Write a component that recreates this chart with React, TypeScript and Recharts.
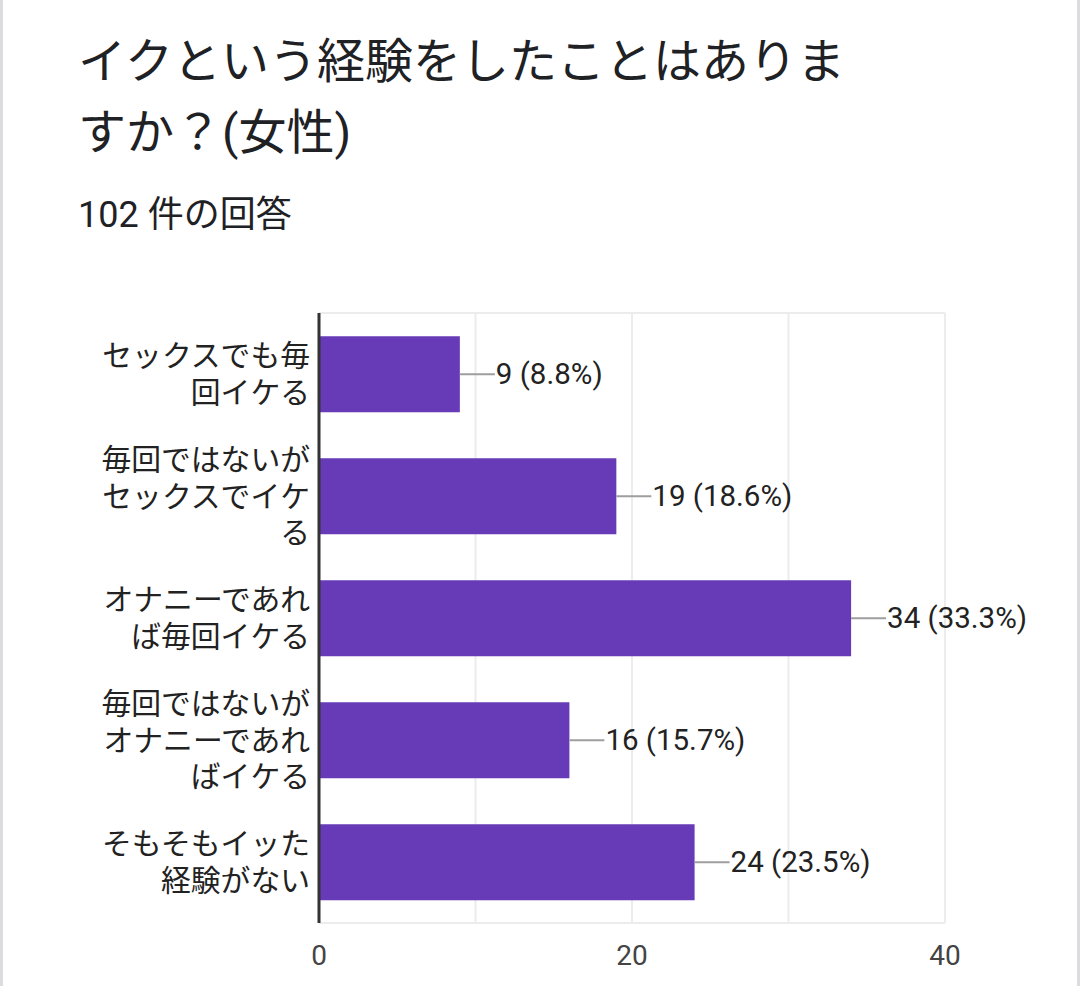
import React from 'react';
import { BarChart, Bar, XAxis, YAxis, CartesianGrid, LabelList } from 'recharts';

const categories = [
  'セックスでも毎回イケる',
  '毎回ではないがセックスでイケる',
  'オナニーであれば毎回イケる',
  '毎回ではないがオナニーであればイケる',
  'そもそもイッた経験がない',
];
const counts = [9, 19, 34, 16, 24];
const percents = ['8.8', '18.6', '33.3', '15.7', '23.5'];
const xTicks = [0, 10, 20, 30, 40];
const shownTicks = [0, 20, 40];
const titleLines = ['イクという経験をしたことはありま', 'すか？(女性)'];
const subtitle = '102 件の回答';

const data = categories.map((c, i) => ({ name: c, value: counts[i], pct: percents[i] }));

const FONT = "Roboto, 'Noto Sans CJK JP', sans-serif";
const CHARS_PER_LINE = 7;

function splitLines(s: string): string[] {
  const out: string[] = [];
  const chars = Array.from(s);
  for (let i = 0; i < chars.length; i += CHARS_PER_LINE) {
    out.push(chars.slice(i, i + CHARS_PER_LINE).join(''));
  }
  return out;
}

const YTick = (props: any) => {
  const { x, y, payload } = props;
  const lines = splitLines(String(payload.value));
  const lh = 36.5;
  const start = y - ((lines.length - 1) * lh) / 2;
  return (
    <g>
      {lines.map((l, i) => (
        <text
          key={i}
          x={x + 7}
          y={start + i * lh}
          textAnchor="end"
          dominantBaseline="central"
          fontSize={29.8}
          fontFamily={FONT}
          fill="#222"
        >
          {l}
        </text>
      ))}
    </g>
  );
};

const BarLabel = (props: any) => {
  const { x, y, width, height, index } = props;
  const ex = x + width;
  const cy = y + height / 2;
  return (
    <g>
      <line x1={ex} y1={cy} x2={ex + 35} y2={cy} stroke="#9e9e9e" strokeWidth={2} />
      <text
        x={ex + 36}
        y={cy}
        dominantBaseline="central"
        fontSize={29.5}
        fontFamily={FONT}
        fill="#222"
      >
        {`${counts[index]} (${percents[index]}%)`}
      </text>
    </g>
  );
};

export default function App() {
  return (
    <div
      style={{
        position: 'absolute',
        left: 0,
        top: 0,
        width: 1080,
        height: 986,
        background: '#fff',
        fontFamily: FONT,
        overflow: 'hidden',
      }}
    >
      <div style={{ position: 'absolute', left: 0, top: 0, width: 3, height: 986, background: '#dadce0' }} />
      <div style={{ position: 'absolute', right: 0, top: 0, width: 3, height: 986, background: '#dadce0' }} />
      {titleLines.map((t, i) => (
        <div
          key={i}
          style={{
            position: 'absolute',
            left: 78,
            top: 30 + i * 71,
            fontSize: 48,
            lineHeight: '64px',
            color: '#202124',
            whiteSpace: 'nowrap',
          }}
        >
          {t}
        </div>
      ))}
      <div
        style={{
          position: 'absolute',
          left: 78,
          top: 193,
          fontSize: 36,
          lineHeight: '44px',
          color: '#202124',
          whiteSpace: 'nowrap',
        }}
      >
        {subtitle}
      </div>
      <div style={{ position: 'absolute', left: 0, top: 0 }}>
        <BarChart
          width={1080}
          height={986}
          data={data}
          layout="vertical"
          margin={{ top: 313, right: 135, bottom: 13, left: 0 }}
          barCategoryGap="19%"
        >
          <CartesianGrid
            stroke="#ececec"
            strokeWidth={2}
            horizontalCoordinatesGenerator={({ offset }: any) => [offset.top, offset.top + offset.height]}
          />
          <XAxis
            type="number"
            domain={[0, 40]}
            ticks={xTicks}
            tickFormatter={(v: number) => (shownTicks.includes(v) ? String(v) : '')}
            axisLine={false}
            tickLine={false}
            height={50}
            tick={{ fontSize: 28, fontFamily: FONT, fill: '#444' }}
            tickMargin={16}
          />
          <YAxis
            type="category"
            dataKey="name"
            width={319}
            axisLine={{ stroke: '#333', strokeWidth: 3 }}
            tickLine={false}
            tick={<YTick />}
            tickMargin={10}
          />
          <Bar dataKey="value" fill="#673ab7" isAnimationActive={false}>
            <LabelList dataKey="value" content={<BarLabel />} />
          </Bar>
        </BarChart>
      </div>
    </div>
  );
}
